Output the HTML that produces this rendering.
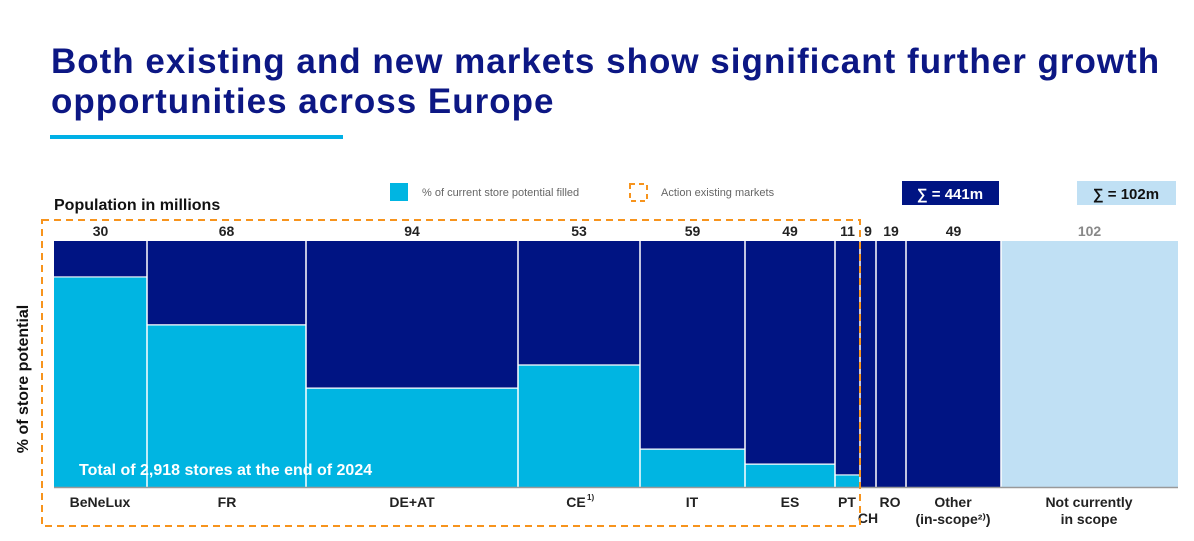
<!DOCTYPE html>
<html><head><meta charset="utf-8"><style>
body{margin:0;width:1194px;height:541px;background:#fff;font-family:"Liberation Sans",sans-serif;overflow:hidden;position:relative}
.t{position:absolute;left:51px;top:42px;font-size:35px;font-weight:bold;color:#0c1784;line-height:40px;letter-spacing:1px}
</style></head><body>
<div class="t">Both existing and new markets show significant further growth<br>opportunities across Europe</div>
<div style="position:absolute;left:50px;top:135px;width:293px;height:4px;background:#00b0e6"></div>
<svg id="c" width="1194" height="541" style="position:absolute;left:0;top:0"></svg>
<script>
const categories=["BeNeLux","FR","DE+AT","CE","IT","ES","PT","CH","RO","Other","Not currently"];
const population=[30,68,94,53,59,49,11,9,19,49,102];
const displayWeight=[93,159,212,122,105,90,25,16,30,95,177];
const filledShare=[0.854,0.659,0.402,0.496,0.154,0.093,0.049,0,0,0,1];
const NS="http://www.w3.org/2000/svg";
const svg=document.getElementById('c');
function el(t,a,txt){const e=document.createElementNS(NS,t);for(const k in a)e.setAttribute(k,a[k]);if(txt!=null)e.textContent=txt;svg.appendChild(e);return e;}
const X0=54,X1=1178,Y0=241,Y1=487;
const totalW=displayWeight.reduce((a,b)=>a+b,0);
const xs=v=>X0+v/totalW*(X1-X0);
const ys=v=>Y1-v*(Y1-Y0);
let cum=0;
categories.forEach((c,i)=>{
 const x=xs(cum),w=xs(cum+displayWeight[i])-x;cum+=displayWeight[i];
 const last=i===categories.length-1;
 let r=el('rect',{x:x,y:Y0,width:w,height:Y1-Y0,fill:last?'#c0e0f4':'#001483'});
 
 
 if(!last&&filledShare[i]>0){
  let f=el('rect',{x:x,y:ys(filledShare[i]),width:w,height:Y1-ys(filledShare[i]),fill:'#00b5e2'});
  
  
  el('line',{x1:x,x2:x+w,y1:ys(filledShare[i]),y2:ys(filledShare[i]),stroke:'#fff','stroke-width':1.2});
 }
 if(i>0){el('line',{x1:x,x2:x,y1:Y0,y2:Y1,stroke:'#fff','stroke-width':1.5});}
 let t=el('text',{x:x+w/2,y:236,'text-anchor':'middle','font-size':14,'font-weight':'bold',fill:last?'#888':'#222'},String(population[i]));
 
 
});
el('line',{x1:X0,x2:X1,y1:Y1+0.5,y2:Y1+0.5,stroke:'#999','stroke-width':1.5});
const lab=[["BeNeLux",100,507],["FR",227,507],["DE+AT",412,507],["CE",576,507],["IT",692,507],["ES",790,507],["PT",847,507],["CH",868,523],["RO",890,507],["Other",953,507],["(in-scope²⁾)",953,524],["Not currently",1089,507],["in scope",1089,524]];
lab.forEach(l=>{let t=el('text',{x:l[1],y:l[2],'text-anchor':'middle','font-size':14,'font-weight':'bold',fill:'#222'},l[0]);});
el('text',{x:587,y:500,'font-size':8,'font-weight':'bold',fill:'#222'},"1)");
el('rect',{x:42,y:220,width:818,height:306,fill:'none',stroke:'#f7941d','stroke-width':2,'stroke-dasharray':'7,5'});
el('text',{x:79,y:475,'font-size':16,'font-weight':'bold',fill:'#fff'},"Total of 2,918 stores at the end of 2024");
el('text',{x:54,y:210,'font-size':16,'font-weight':'bold',fill:'#111'},"Population in millions");
el('text',{x:0,y:0,'font-size':16,'font-weight':'bold',fill:'#111','text-anchor':'middle',transform:'translate(28,379) rotate(-90)'},"% of store potential");
el('rect',{x:390,y:183,width:18,height:18,fill:'#00b5e2'});
el('text',{x:422,y:196,'font-size':11,fill:'#666'},"% of current store potential filled");
el('rect',{x:630,y:184,width:17,height:17,fill:'none',stroke:'#f7941d','stroke-width':2,'stroke-dasharray':'5,4'});
el('text',{x:661,y:196,'font-size':11,fill:'#666'},"Action existing markets");
el('rect',{x:902,y:181,width:97,height:24,fill:'#001483'});
el('text',{x:950,y:199,'text-anchor':'middle','font-size':15,'font-weight':'bold',fill:'#fff'},"∑ = 441m");
el('rect',{x:1077,y:181,width:99,height:24,fill:'#c0e0f4'});
el('text',{x:1126,y:199,'text-anchor':'middle','font-size':15,'font-weight':'bold',fill:'#111'},"∑ = 102m");
</script>
</body></html>
